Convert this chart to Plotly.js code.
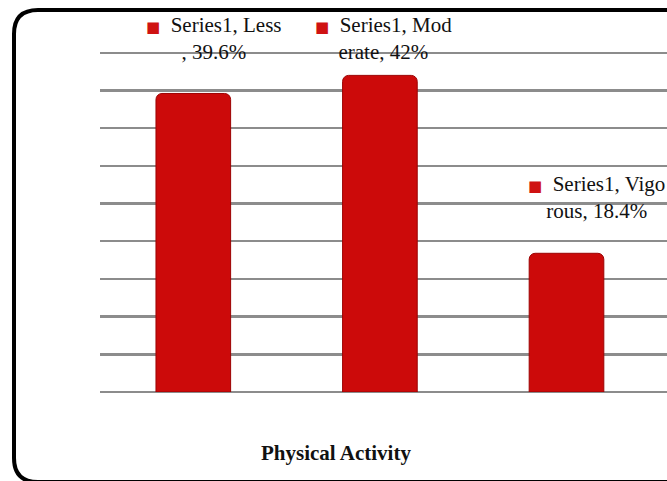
<!DOCTYPE html>
<html>
<head>
<meta charset="utf-8">
<script src="https://cdn.plot.ly/plotly-3.0.1.min.js"></script>
<style>
html,body{margin:0;padding:0;background:#fff;}
#chart{width:667px;height:481px;}
</style>
</head>
<body>
<div id="chart"></div>
<script>
// ---- data ----
var categories = ['Less', 'Moderate', 'Vigorous'];
var values = [39.6, 42, 18.4];
var seriesName = 'Series1';
var labelLine1 = ['Series1, Less', 'Series1, Mod', 'Series1, Vigo'];
var labelLine2 = [', 39.6%', 'erate, 42%', 'rous, 18.4%'];
var axisTitle = 'Physical Activity';
var topText = 'physical activity';

// ---- layout helpers ----
var W = 667, H = 481;
var M = {l: 100, r: 0, t: 49, b: 89};
var PW = W - M.l - M.r, PH = H - M.t - M.b;
function px(x) { return (x - M.l) / PW; }
function py(y) { return (H - M.b - y) / PH; }

var labelXShift = [21, 4, 30];
var labelYShift = [55, 37, 56];

var serif = 'Liberation Serif, Times New Roman, serif';

var annotations = categories.map(function (c, i) {
  return {
    x: c, y: values[i], xref: 'x', yref: 'y',
    xanchor: 'center', yanchor: 'middle', align: 'center',
    xshift: labelXShift[i], yshift: labelYShift[i],
    showarrow: false,
    text: '<span style="color:#cf1212;font-size:15px;font-family:DejaVu Sans">\u25A0</span>\u00a0\u00a0' +
          labelLine1[i] + '<br>' + labelLine2[i],
    font: {family: serif, size: 21, color: '#111'}
  };
});

annotations.push({
  x: px(336), y: py(453), xref: 'paper', yref: 'paper',
  xanchor: 'center', yanchor: 'middle', showarrow: false,
  text: '<b>' + axisTitle + '</b>',
  font: {family: serif, size: 21, color: '#111'}
});

annotations.push({
  x: px(53), y: py(1), xref: 'paper', yref: 'paper',
  xanchor: 'left', yanchor: 'bottom', showarrow: false,
  text: topText,
  font: {family: serif, size: 28, color: '#111'}
});

// rounded frame
var fl = 14, ft = 10, fr = 700, fb = 482, rad = 24;
function P(x, y) { return px(x) + ',' + py(y); }
var framePath = 'M ' + P(fl, ft + rad) +
  ' Q ' + P(fl, ft) + ' ' + P(fl + rad, ft) +
  ' L ' + P(fr - rad, ft) +
  ' Q ' + P(fr, ft) + ' ' + P(fr, ft + rad) +
  ' L ' + P(fr, fb - rad) +
  ' Q ' + P(fr, fb) + ' ' + P(fr - rad, fb) +
  ' L ' + P(fl + rad, fb) +
  ' Q ' + P(fl, fb) + ' ' + P(fl, fb - rad) + ' Z';

var data = [{
  type: 'bar',
  name: seriesName,
  x: categories,
  y: values,
  marker: {
    color: '#cc0a0a',
    line: {color: '#9c0303', width: 1},
    cornerradius: 6
  },
  hoverinfo: 'skip'
}];

var layout = {
  width: W, height: H,
  margin: M,
  paper_bgcolor: '#ffffff',
  plot_bgcolor: '#ffffff',
  showlegend: false,
  bargap: 0.6,
  xaxis: {
    showticklabels: false, ticks: '', showgrid: false, zeroline: false,
    showline: false, fixedrange: true
  },
  yaxis: {
    range: [0, 45.5], dtick: 5, showticklabels: false, ticks: '',
    showgrid: true, gridcolor: '#8c8c8c', gridwidth: 2.5,
    zeroline: true, zerolinecolor: '#8c8c8c', zerolinewidth: 2.5,
    showline: false, fixedrange: true
  },
  shapes: [{
    type: 'path', xref: 'paper', yref: 'paper', path: framePath,
    line: {color: '#000', width: 4}, fillcolor: 'rgba(0,0,0,0)', layer: 'above'
  }],
  annotations: annotations
};

Plotly.newPlot('chart', data, layout, {staticPlot: true, displayModeBar: false});
</script>
</body>
</html>
